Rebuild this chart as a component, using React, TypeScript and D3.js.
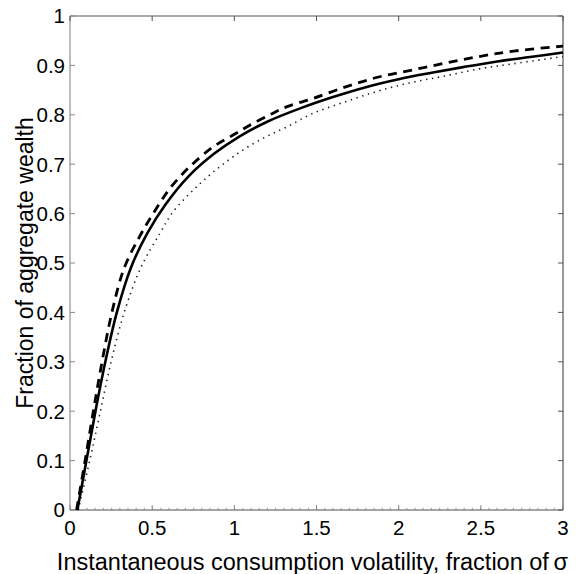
import React from "react";
import * as d3 from "d3";

const W = 576;
const H = 574;

const xTicks = [0, 0.5, 1, 1.5, 2, 2.5, 3];
const yTicks = [0, 0.1, 0.2, 0.3, 0.4, 0.5, 0.6, 0.7, 0.8, 0.9, 1];
const xTickLabels = ["0", "0.5", "1", "1.5", "2", "2.5", "3"];
const yTickLabels = ["0", "0.1", "0.2", "0.3", "0.4", "0.5", "0.6", "0.7", "0.8", "0.9", "1"];

const solidX = [0.045, 0.1, 0.155, 0.215, 0.285, 0.37, 0.47, 0.58, 0.72, 0.88, 1.03, 1.2, 1.4, 1.6, 1.8, 2.0, 2.2, 2.4, 2.6, 2.8, 3.0];
const solidY = [0, 0.1, 0.2, 0.3, 0.4, 0.49, 0.56, 0.618, 0.675, 0.722, 0.756, 0.786, 0.813, 0.836, 0.856, 0.872, 0.885, 0.897, 0.908, 0.917, 0.926];

const dashX = [0.04, 0.092, 0.142, 0.195, 0.255, 0.33, 0.426, 0.506, 0.608, 0.729, 0.871, 0.993, 1.094, 1.216, 1.317, 1.479, 1.682, 1.884, 2.087, 2.29, 2.49, 2.7, 3.0];
const dashY = [0, 0.1, 0.2, 0.3, 0.4, 0.49, 0.555, 0.6, 0.651, 0.695, 0.735, 0.759, 0.779, 0.8, 0.816, 0.833, 0.857, 0.877, 0.891, 0.905, 0.918, 0.929, 0.939];

const dotX = [0.05, 0.12, 0.185, 0.25, 0.33, 0.43, 0.547, 0.628, 0.77, 0.912, 1.054, 1.195, 1.317, 1.479, 1.682, 1.884, 2.087, 2.29, 2.49, 2.69, 3.0];
const dotY = [0, 0.1, 0.2, 0.3, 0.4, 0.49, 0.56, 0.604, 0.654, 0.695, 0.729, 0.756, 0.775, 0.803, 0.827, 0.849, 0.866, 0.879, 0.893, 0.903, 0.918];

const zeroX = [0, 3];
const zeroY = [0, 0];

const FONT = "'Liberation Sans', Arial, Helvetica, sans-serif";

export default function App() {
  const left = 70, right = 563, top = 16, bottom = 510;
  const x = d3.scaleLinear().domain([0, 3]).range([left, right]);
  const y = d3.scaleLinear().domain([0, 1]).range([bottom, top]);

  const mk = (xs: number[], ys: number[]) =>
    d3
      .line<number>()
      .x((_, i) => x(xs[i]))
      .y((_, i) => y(ys[i]))
      .curve(d3.curveCatmullRom.alpha(0.5))(xs.map((v) => v)) as string;

  const tickLen = 5;

  return (
    <svg
      width={W}
      height={H}
      style={{ position: "absolute", left: 0, top: 0, background: "#fff" }}
      fontFamily={FONT}
    >
      <rect x={0} y={0} width={W} height={H} fill="#fff" />
      <path d={mk(zeroX, zeroY)} fill="none" stroke="#aaa" strokeWidth={2.5} strokeDasharray="1.2 7" transform="translate(0,-1)" />
      <line x1={left} y1={top} x2={right} y2={top} stroke="#555" strokeWidth={1.2} />
      <line x1={right} y1={top} x2={right} y2={bottom} stroke="#555" strokeWidth={1.2} />
      <line x1={left} y1={bottom} x2={right} y2={bottom} stroke="#888" strokeWidth={1.3} />
      <line x1={left} y1={top} x2={left} y2={bottom} stroke="#999" strokeWidth={1.3} />
      {xTicks.map((t, i) => (
        <g key={"xt" + i}>
          <line x1={x(t)} x2={x(t)} y1={bottom} y2={bottom - tickLen} stroke="#888" strokeWidth={1} />
          <line x1={x(t)} x2={x(t)} y1={top} y2={top + tickLen} stroke="#555" strokeWidth={1} />
          <text x={x(t)} y={535} textAnchor="middle" fontSize={20.5} fill="#000">
            {xTickLabels[i]}
          </text>
        </g>
      ))}
      {yTicks.map((t, i) => (
        <g key={"yt" + i}>
          <line x1={left} x2={left + tickLen} y1={y(t)} y2={y(t)} stroke="#888" strokeWidth={1} />
          <line x1={right} x2={right - tickLen} y1={y(t)} y2={y(t)} stroke="#555" strokeWidth={1} />
          <text x={65} y={y(t) + 7.3} textAnchor="end" fontSize={20.5} fill="#000">
            {yTickLabels[i]}
          </text>
        </g>
      ))}
      <path d={mk(dotX, dotY)} fill="none" stroke="#222" strokeWidth={1.6} strokeDasharray="1.4 4.6" />
      <path d={mk(solidX, solidY)} fill="none" stroke="#000" strokeWidth={2.6} />
      <path d={mk(dashX, dashY)} fill="none" stroke="#000" strokeWidth={2.8} strokeDasharray="9 6.5" />
      <text x={(left + right) / 2 - 4} y={570} textAnchor="middle" fontSize={23.5} fill="#000">
        Instantaneous consumption volatility, fraction of{"\u2009"}σ
      </text>
      <text
        transform={`translate(33,${(top + bottom) / 2}) rotate(-90)`}
        textAnchor="middle"
        fontSize={23}
        fill="#000"
      >
        Fraction of aggregate wealth
      </text>
    </svg>
  );
}
